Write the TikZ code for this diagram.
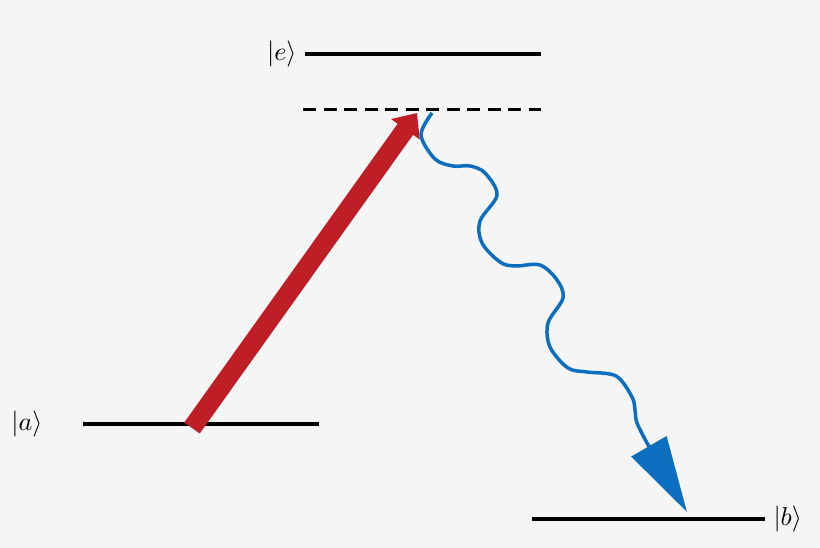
\documentclass[tikz,border=0pt]{standalone}
\usepackage{amsmath}
\usepackage{xcolor}
\usepackage{tikz}
\usetikzlibrary{arrows.meta,positioning}

\definecolor{pumpred}{RGB}{192,30,38}
\definecolor{photonblue}{RGB}{12,110,190}
\definecolor{paper}{RGB}{245,245,245}

\begin{document}
\begin{tikzpicture}[x=1pt,y=-1pt]
            \tikzstyle{level} = [line width=4pt]
            \tikzstyle{virtual} = [line width=3pt, dash pattern=on 13pt off 7.5pt]
            \tikzstyle{ket} = [inner sep=0pt, scale=2.6]
            \tikzstyle{pump} = [line width=19pt, pumpred, -{Triangle[length=20pt,width=34pt]}]
            \tikzstyle{photon} = [line width=3.5pt, photonblue, line join=round, -{Triangle[length=76pt,width=40pt]}]

            \fill[paper] (0,0) rectangle (820,548);
            \useasboundingbox (0,0) rectangle (820,548);

            % levels
            \coordinate (eL) at (305,54);   \coordinate (eR) at (541,54);
            \coordinate (vL) at (303,110);  \coordinate (vR) at (541,110);
            \coordinate (aL) at (83,424);   \coordinate (aR) at (319,424);
            \coordinate (bL) at (532,519);  \coordinate (bR) at (765,519);
            \draw [level] (eL) -- (eR);
            \draw [virtual] (vL) -- (vR);
            \draw [level] (aL) -- (aR);
            \draw [level] (bL) -- (bR);

            \node [ket, left = 8pt of eL] (eket) {$|e\rangle$};
            \node [ket, left = 40pt of aL] (aket) {$|a\rangle$};
            \node [ket, right = 8pt of bR] (bket) {$|b\rangle$};

            % pump and emission
            \coordinate (pumptail) at (192,428);
            \coordinate (pumptip) at (417,113);
            \coordinate (photontip) at (687,512);
            \draw [pump] (pumptail) -- (pumptip);
            \draw [photon] plot[smooth, tension=0.55] coordinates {(432,113) (421,135) (435,159) (453,166) (470,166) (485,173) (497,195) (480,221) (482,243) (500,262) (515,266) (540,265) (557,280) (563,298) (548,323) (550,347) (568,368) (587,372) (616,376) (632,397) (635,410) (637,423) (647,443)} -- (photontip);
            \end{tikzpicture}
\end{document}
